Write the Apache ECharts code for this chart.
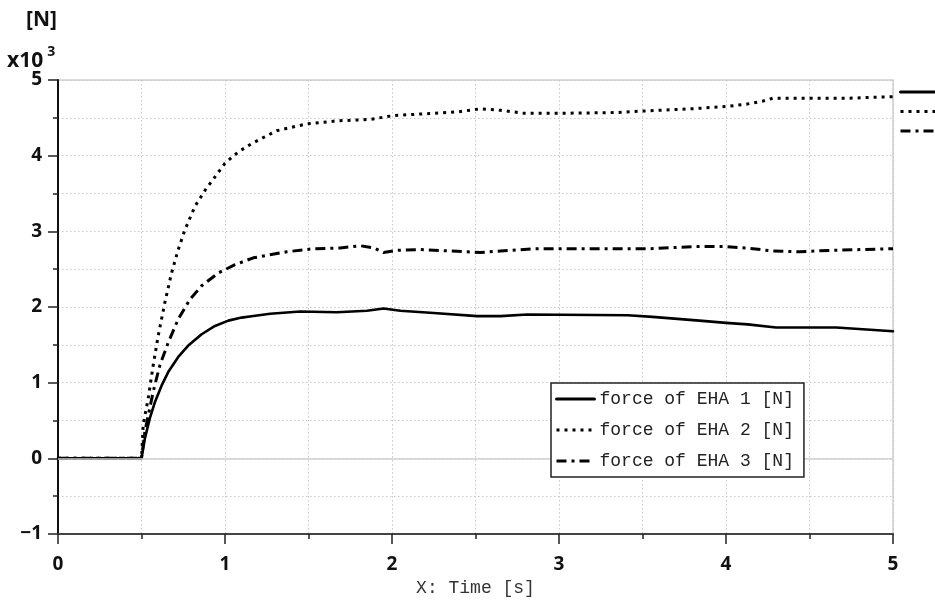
<!DOCTYPE html>
<html>
<head>
<meta charset="utf-8">
<style>
  html, body { margin: 0; padding: 0; background: #fff; }
  #chart { width: 935px; height: 602px; }
</style>
<script src="https://cdn.jsdelivr.net/npm/echarts@6/dist/echarts.min.js"></script>
</head>
<body>
<div id="chart"></div>
<script>
// Actuator force traces, in units of 10^3 N, against time in seconds
const seriesNames = ['force of EHA 1 [N]', 'force of EHA 2 [N]', 'force of EHA 3 [N]'];

const timeEHA1 = [0, 0.5, 0.52, 0.55, 0.58, 0.62, 0.66, 0.72, 0.78, 0.86, 0.94, 1.02, 1.10, 1.17, 1.27, 1.45, 1.67, 1.85, 1.95, 2.05, 2.25, 2.51, 2.65, 2.81, 3.41, 3.56, 3.84, 4.0, 4.13, 4.3, 4.66, 5.0];
const forceEHA1 = [0, 0, 0.26, 0.53, 0.74, 0.96, 1.14, 1.34, 1.49, 1.64, 1.75, 1.82, 1.86, 1.88, 1.91, 1.94, 1.93, 1.95, 1.98, 1.95, 1.92, 1.88, 1.88, 1.90, 1.89, 1.87, 1.82, 1.79, 1.77, 1.73, 1.73, 1.68];

const timeEHA2 = [0, 0.5, 0.51, 0.54, 0.57, 0.60, 0.64, 0.68, 0.72, 0.76, 0.82, 0.88, 0.94, 1.0, 1.08, 1.16, 1.31, 1.49, 1.67, 1.87, 2.01, 2.25, 2.4, 2.53, 2.65, 2.79, 3.0, 3.35, 3.5, 3.8, 4.0, 4.12, 4.22, 4.28, 4.5, 4.74, 5.0];
const forceEHA2 = [0, 0, 0.44, 0.79, 1.23, 1.62, 2.06, 2.45, 2.76, 3.02, 3.33, 3.54, 3.72, 3.90, 4.05, 4.16, 4.33, 4.42, 4.46, 4.48, 4.53, 4.56, 4.58, 4.62, 4.60, 4.56, 4.56, 4.57, 4.59, 4.62, 4.65, 4.68, 4.72, 4.76, 4.76, 4.76, 4.78];

const timeEHA3 = [0, 0.5, 0.52, 0.57, 0.61, 0.66, 0.72, 0.79, 0.86, 0.96, 1.06, 1.17, 1.37, 1.53, 1.69, 1.81, 1.89, 1.95, 2.03, 2.17, 2.45, 2.53, 2.65, 2.85, 3.25, 3.54, 3.82, 3.98, 4.12, 4.28, 4.44, 4.64, 5.0];
const forceEHA3 = [0, 0, 0.35, 0.88, 1.23, 1.53, 1.84, 2.10, 2.28, 2.45, 2.56, 2.65, 2.73, 2.77, 2.78, 2.81, 2.78, 2.72, 2.75, 2.76, 2.73, 2.72, 2.74, 2.77, 2.77, 2.77, 2.80, 2.80, 2.78, 2.74, 2.73, 2.75, 2.77];

const xTicks = { min: 0, max: 5, step: 1 };
const yTicks = { min: -1, max: 5, step: 1 };

const pairs = (ts, vs) => ts.map((t, i) => [t, vs[i]]);

const labelFont = { fontFamily: 'Open Sans', fontWeight: 'bold', fontSize: 19, color: '#111' };
const gridLine = { color: '#c8c8c8', type: [1.5, 2.5], width: 1 };
// legend swatches show only the line, no marker
const hiddenMarker = { color: 'rgba(0,0,0,0)', borderWidth: 0, opacity: 0 };

const chart = echarts.init(document.getElementById('chart'), null, { renderer: 'canvas' });

const lineSeries = (i, ts, vs, style, z) => ({
  name: seriesNames[i], type: 'line', data: pairs(ts, vs),
  showSymbol: false, symbol: 'none', z: z,
  lineStyle: Object.assign({ color: '#000' }, style),
  itemStyle: { color: '#000' }
});

chart.setOption({
  animation: false,
  backgroundColor: '#fff',
  grid: {
    left: 58, right: 42, top: 80, bottom: 65,
    show: true, borderColor: '#cfcfcf', borderWidth: 1.5, backgroundColor: 'transparent'
  },
  graphic: [
    { type: 'text', left: 26, top: 10, style: { text: '[N]', font: 'bold 21px "Open Sans"', fill: '#111' } },
    { type: 'text', left: 7, top: 45, style: {
        text: '{b|x10}{s|3}',
        rich: {
          b: { fontFamily: 'Open Sans', fontWeight: 'bold', fontSize: 21, fill: '#111', verticalAlign: 'bottom' },
          s: { fontFamily: 'Open Sans', fontWeight: 'bold', fontSize: 14, fill: '#111', padding: [0, 0, 13, 4] }
        }
      }
    }
  ],
  legend: [
    {
      data: seriesNames,
      orient: 'vertical',
      left: 551, top: 383, z: 20,
      padding: [6, 10, 6, 4],
      itemWidth: 38, itemHeight: 14, itemGap: 11,
      backgroundColor: '#fff',
      borderColor: '#222', borderWidth: 1.5, borderRadius: 0,
      itemStyle: hiddenMarker,
      lineStyle: { width: 3 },
      textStyle: { fontFamily: 'Liberation Mono', fontSize: 18, color: '#222', lineHeight: 20 },
      selectedMode: false
    },
    {
      data: seriesNames,
      orient: 'vertical',
      left: 899, top: 86, z: 20,
      padding: 0,
      itemWidth: 44, itemHeight: 14, itemGap: 7.5,
      itemStyle: hiddenMarker,
      lineStyle: { width: 3 },
      textStyle: { fontFamily: 'Liberation Mono', fontSize: 12, color: '#222' },
      selectedMode: false
    }
  ],
  xAxis: {
    type: 'value',
    min: xTicks.min, max: xTicks.max, interval: xTicks.step,
    name: 'X: Time [s]',
    nameLocation: 'middle',
    nameGap: 45,
    nameTextStyle: { fontFamily: 'Liberation Mono', fontSize: 18, color: '#333' },
    axisLine: { show: true, onZero: false, lineStyle: { color: '#444', width: 2 } },
    axisTick: { show: true, inside: false, length: 10, lineStyle: { color: '#222', width: 1.5 } },
    minorTick: { show: true, splitNumber: 2, length: 5, lineStyle: { color: '#222', width: 1.5 } },
    axisLabel: Object.assign({ margin: 21 }, labelFont),
    splitLine: { show: true, lineStyle: gridLine },
    minorSplitLine: { show: true, lineStyle: gridLine }
  },
  yAxis: {
    type: 'value',
    min: yTicks.min, max: yTicks.max, interval: yTicks.step,
    axisLine: { show: true, onZero: false, lineStyle: { color: '#111', width: 2 } },
    axisTick: { show: true, inside: false, length: 10, lineStyle: { color: '#222', width: 1.5 } },
    minorTick: { show: true, splitNumber: 2, length: 5, lineStyle: { color: '#222', width: 1.5 } },
    axisLabel: Object.assign({
      margin: 16,
      formatter: v => (v < 0 ? '\u2212' + Math.abs(v) : String(v))
    }, labelFont),
    splitLine: { show: true, lineStyle: gridLine },
    minorSplitLine: { show: true, lineStyle: gridLine }
  },
  series: [
    {
      // solid reference line at zero force
      type: 'line', data: [], silent: true, z: 1,
      markLine: {
        silent: true, symbol: 'none', label: { show: false },
        lineStyle: { color: '#cfcfcf', type: 'solid', width: 1.5 },
        data: [{ yAxis: 0 }]
      }
    },
    lineSeries(0, timeEHA1, forceEHA1, { width: 2.6, type: 'solid', cap: 'round', join: 'round' }, 4),
    lineSeries(1, timeEHA2, forceEHA2, { width: 3, type: [3, 5], cap: 'butt' }, 3),
    lineSeries(2, timeEHA3, forceEHA3, { width: 3, type: [10, 5, 3, 5], cap: 'butt' }, 3)
  ]
});
</script>
</body>
</html>
